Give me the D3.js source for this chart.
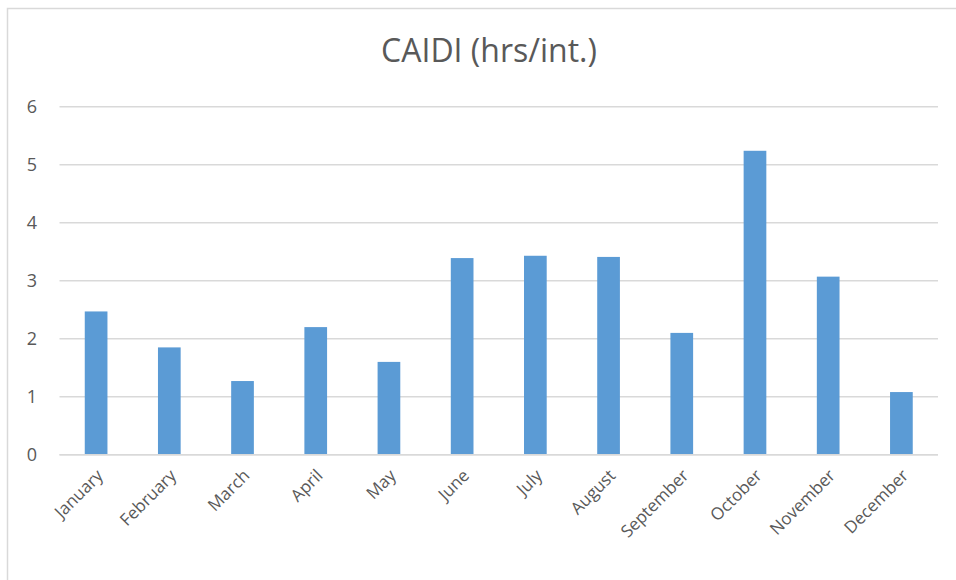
<!DOCTYPE html>
<html>
<head>
<meta charset="utf-8">
<script src="https://cdn.jsdelivr.net/npm/d3@7/dist/d3.min.js"></script>
<style>
  html, body { margin: 0; padding: 0; background: #fff; }
  svg { display: block; font-family: "Open Sans", "Noto Sans", sans-serif; }
</style>
</head>
<body>
<svg id="chart" width="956" height="580"></svg>
<script>
// Monthly CAIDI values (hours per interruption)
const months = ["January", "February", "March", "April", "May", "June",
                "July", "August", "September", "October", "November", "December"];
const caidi = [2.47, 1.85, 1.27, 2.20, 1.60, 3.39, 3.43, 3.41, 2.10, 5.24, 3.07, 1.08];
const yTicks = [0, 1, 2, 3, 4, 5, 6];
const title = "CAIDI (hrs/int.)";

const svg = d3.select("#chart");
const W = 956, H = 580;
const margin = { left: 59.5, right: 18, top: 106.7, bottom: 125.3 };

// Chart frame (light grey border on top and left)
svg.append("rect")
  .attr("x", 7.5).attr("y", 8.5)
  .attr("width", 1000).attr("height", 1000)
  .attr("fill", "none").attr("stroke", "#d9d9d9").attr("stroke-width", 1.5);

const x = d3.scaleBand()
  .domain(months)
  .range([margin.left, W - margin.right])
  .paddingInner(0.69)
  .paddingOuter(0.345);

const y = d3.scaleLinear()
  .domain([0, 6])
  .range([H - margin.bottom, margin.top]);

// Horizontal gridlines
svg.append("g")
  .selectAll("line")
  .data(yTicks)
  .join("line")
  .attr("x1", margin.left).attr("x2", W - margin.right)
  .attr("y1", d => y(d)).attr("y2", d => y(d))
  .attr("stroke", "#d9d9d9").attr("stroke-width", 1.5);

// Y-axis labels
const yAxis = d3.axisLeft(y).tickValues(yTicks).tickSize(0).tickPadding(0).tickFormat(d3.format("d"));
const yg = svg.append("g")
  .attr("transform", `translate(37,0)`)
  .call(yAxis);
yg.select(".domain").remove();
yg.selectAll("text")
  .attr("fill", "#595959")
  .attr("font-size", 18)
  .attr("font-family", "'Open Sans', sans-serif");

// Bars
svg.append("g")
  .selectAll("rect")
  .data(months.map((m, i) => ({ m, v: caidi[i] })))
  .join("rect")
  .attr("x", d => x(d.m))
  .attr("width", x.bandwidth())
  .attr("y", d => y(d.v))
  .attr("height", d => y(0) - y(d.v))
  .attr("fill", "#5b9bd5");

// Baseline
svg.append("line")
  .attr("x1", margin.left).attr("x2", W - margin.right)
  .attr("y1", y(0)).attr("y2", y(0))
  .attr("stroke", "#d9d9d9").attr("stroke-width", 1.5);

// Category labels, rotated
const xAxis = d3.axisBottom(x).tickSize(0).tickPadding(0);
const xg = svg.append("g")
  .attr("transform", `translate(0,${y(0)})`)
  .call(xAxis);
xg.select(".domain").remove();
xg.selectAll("text")
  .attr("fill", "#595959")
  .attr("font-size", 17)
  .attr("font-family", "'Open Sans', sans-serif")
  .attr("text-anchor", "end")
  .attr("dy", null)
  .attr("y", 0)
  .attr("transform", "translate(8,22) rotate(-45)");

// Title
svg.append("text")
  .attr("x", 489).attr("y", 61.5)
  .attr("text-anchor", "middle")
  .attr("fill", "#595959")
  .attr("font-size", 32)
  .attr("font-family", "'Open Sans', sans-serif")
  .text(title);
</script>
</body>
</html>
